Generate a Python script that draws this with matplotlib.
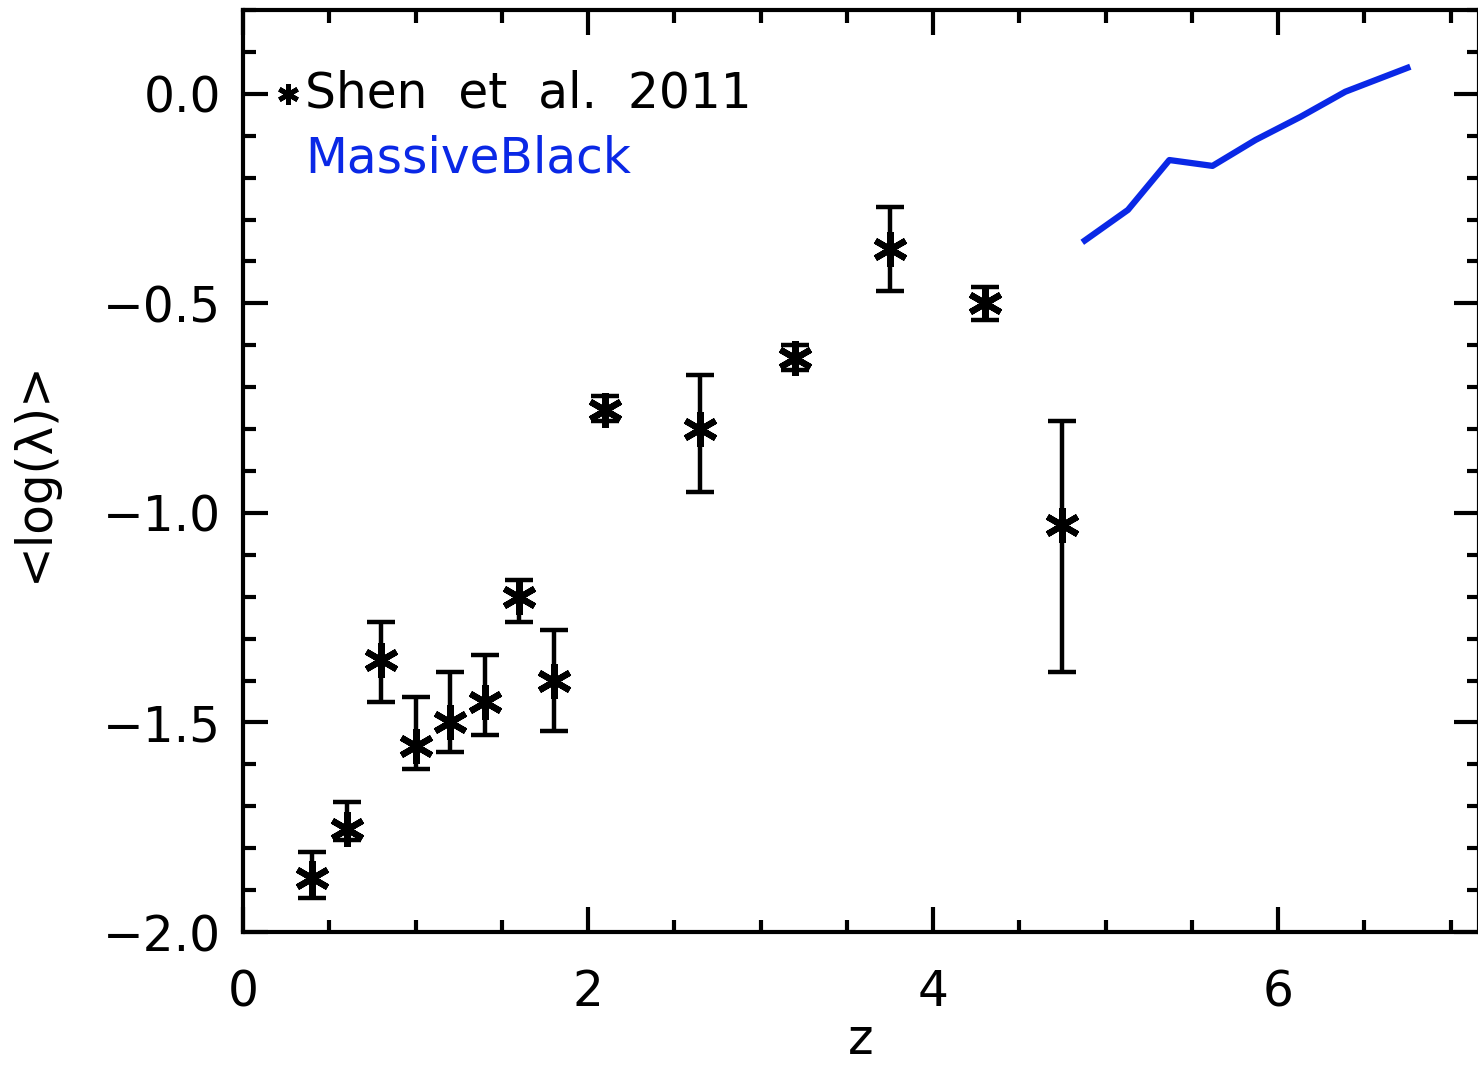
import matplotlib
matplotlib.use('Agg')
import matplotlib.pyplot as plt
from matplotlib.ticker import MultipleLocator

# Shen et al. 2011 points
shen_z = [0.4, 0.6, 0.8, 1.0, 1.2, 1.4, 1.6, 1.8, 2.1, 2.65, 3.2, 3.75, 4.3, 4.75]
shen_y = [-1.87, -1.755, -1.35, -1.555, -1.50, -1.45, -1.20, -1.40, -0.755, -0.80, -0.63, -0.37, -0.50, -1.03]
shen_lo = [-1.92, -1.78, -1.45, -1.61, -1.57, -1.53, -1.26, -1.52, -0.78, -0.95, -0.66, -0.47, -0.54, -1.38]
shen_hi = [-1.81, -1.69, -1.26, -1.44, -1.38, -1.34, -1.16, -1.28, -0.72, -0.67, -0.60, -0.27, -0.46, -0.78]

# MassiveBlack curve
mb_z = [4.88, 5.13, 5.37, 5.62, 5.87, 6.13, 6.39, 6.75]
mb_y = [-0.35, -0.277, -0.158, -0.172, -0.11, -0.055, 0.005, 0.062]

err_lo = [y - l for y, l in zip(shen_y, shen_lo)]
err_hi = [h - y for y, h in zip(shen_y, shen_hi)]

fig = plt.figure(figsize=(14.78, 10.77), dpi=100)
ax = fig.add_axes([243 / 1478, 145 / 1077, 1236 / 1478, 922 / 1077])

ax.errorbar(shen_z, shen_y, yerr=[err_lo, err_hi], fmt='none', ecolor='black',
            elinewidth=3.2, capsize=10, capthick=3.2)
ax.plot(shen_z, shen_y, linestyle='none', marker=(6, 2, 0), markersize=25,
        markeredgewidth=4.5, color='black')
ax.plot(mb_z, mb_y, color='#0a28e6', linewidth=4.5)

ax.set_xlim(0, 7.165)
ax.set_ylim(-2.0, 0.2)
ax.xaxis.set_major_locator(MultipleLocator(2))
ax.xaxis.set_minor_locator(MultipleLocator(0.5))
ax.yaxis.set_major_locator(MultipleLocator(0.5))
ax.yaxis.set_minor_locator(MultipleLocator(0.1))
ax.tick_params(which='both', direction='in', top=True, right=True, width=3,
               labelsize=35, colors='black')
ax.tick_params(which='major', length=18)
ax.tick_params(axis='x', which='major', pad=26)
ax.tick_params(axis='y', which='major', pad=16)
ax.tick_params(which='minor', length=9)
for s in ax.spines.values():
    s.set_linewidth(3)

ax.set_yticks([0.0, -0.5, -1.0, -1.5, -2.0])
ax.set_yticklabels(['0.0', '\u22120.5', '\u22121.0', '\u22121.5', '\u22122.0'])

ax.set_xlabel('z', fontsize=35, labelpad=0)
ax.set_ylabel('<log(\u03bb)>', fontsize=35, labelpad=32)

# legend drawn as text
ax.plot([0.26], [0.0], marker=(6, 2, 0), markersize=15, markeredgewidth=3.5,
        color='black', linestyle='none')
ax.text(0.36, 0.0, 'Shen  et  al.  2011', fontsize=35, va='center', ha='left')
ax.text(0.36, -0.155, 'MassiveBlack', fontsize=35, va='center', ha='left',
        color='#0a28e6')

fig.savefig('out.png', dpi=100)
